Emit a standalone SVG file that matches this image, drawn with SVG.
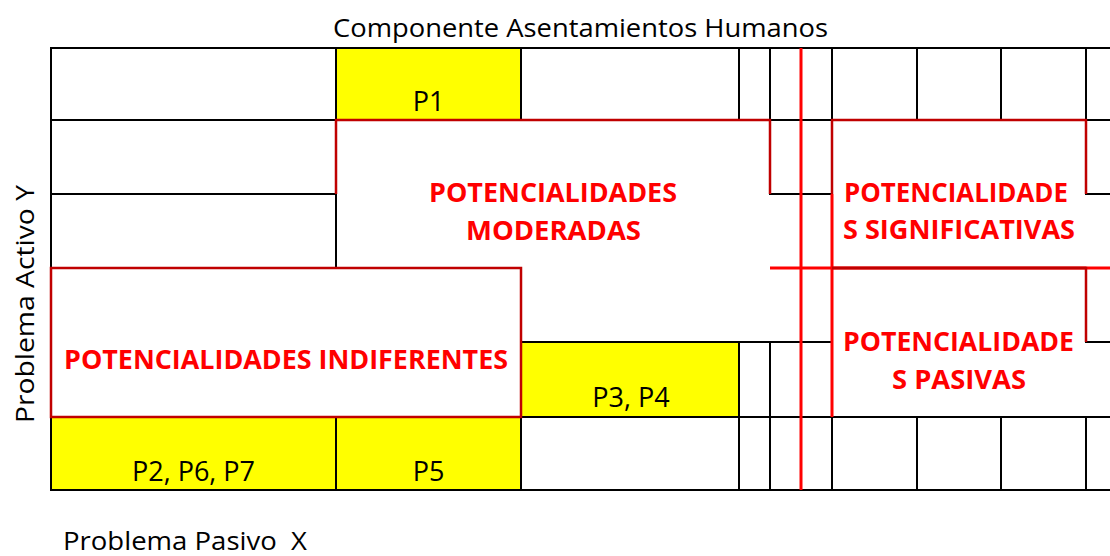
<svg xmlns="http://www.w3.org/2000/svg" width="1110" height="556" viewBox="0 0 1110 556">
  <style>
    .bk { stroke: #000000; stroke-width: 2; fill: none; stroke-linecap: square; }
    .dr { stroke: #C00000; stroke-width: 2.5; fill: none; }
    .br { stroke: #FF0000; stroke-width: 3; fill: none; }
    .yl { fill: #FFFF00; stroke: none; }
    .t { font-family: "Open Sans", "Noto Sans", "Liberation Sans", sans-serif; font-size: 26px; fill: #000000; }
    .c { font-family: "Open Sans", "Noto Sans", "Liberation Sans", sans-serif; font-size: 27px; fill: #000000; text-anchor: middle; }
    .r { font-family: "Open Sans", "Noto Sans", "Liberation Sans", sans-serif; font-size: 27px; font-weight: bold; fill: #FF0000; text-anchor: middle; }
  </style>
  <rect x="0" y="0" width="1110" height="556" fill="#FFFFFF"/>

  <g id="title">
    <text class="t" x="580.5" y="37" text-anchor="middle" textLength="495" lengthAdjust="spacingAndGlyphs">Componente Asentamientos Humanos</text>
  </g>
  <g id="axis-y">
    <text class="t" transform="translate(34,304) rotate(-90)" text-anchor="middle" textLength="238" lengthAdjust="spacingAndGlyphs">Problema Activo Y</text>
  </g>
  <g id="axis-x">
    <text class="t" x="63" y="550" xml:space="preserve" textLength="244" lengthAdjust="spacingAndGlyphs">Problema Pasivo  X</text>
  </g>

  <g id="cell-p1">
    <rect class="yl" x="336" y="48" width="185" height="72"/>
    <text class="c" x="428.5" y="111">P1</text>
  </g>
  <g id="cell-p3p4">
    <rect class="yl" x="521" y="342" width="218" height="75"/>
    <text class="c" x="631" y="407">P3, P4</text>
  </g>
  <g id="cell-p2p6p7">
    <rect class="yl" x="51" y="417" width="285" height="73"/>
    <text class="c" x="193.5" y="481">P2, P6, P7</text>
  </g>
  <g id="cell-p5">
    <rect class="yl" x="336" y="417" width="185" height="73"/>
    <text class="c" x="428.5" y="481">P5</text>
  </g>

  <g id="connectors">
    <path class="bk" d="M51 48H1110 M51 120H336 M770 120H832 M1086 120H1110 M51 194H336 M770 194H832 M1086 194H1110 M521 342H832 M1086 342H1110 M521 417H1110 M51 490H1110"/>
    <path class="bk" d="M51 48V268 M51 417V490 M336 48V120 M336 194V268 M336 417V490 M521 48V120 M521 417V490 M739 48V120 M739 342V490 M770 48V120 M770 342V490 M832 48V120 M832 417V490 M917 48V120 M917 417V490 M1001 48V120 M1001 417V490 M1086 48V120 M1086 417V490"/>
    <path class="br" d="M801 48V490 M770 268H1110 M832 194V417"/>
  </g>

  <g id="potencialidades-moderadas">
    <path class="dr" d="M336 194V120H770V194"/>
    <text class="r" x="553" y="202" textLength="248" lengthAdjust="spacingAndGlyphs">POTENCIALIDADES</text>
    <text class="r" x="553.5" y="240" textLength="175" lengthAdjust="spacingAndGlyphs">MODERADAS</text>
  </g>
  <g id="potencialidades-significativas">
    <path class="dr" d="M832 194V120H1086V194 M832 268H1086"/>
    <text class="r" x="956" y="202" textLength="224" lengthAdjust="spacingAndGlyphs">POTENCIALIDADE</text>
    <text class="r" x="959" y="239" textLength="232" lengthAdjust="spacingAndGlyphs">S SIGNIFICATIVAS</text>
  </g>
  <g id="potencialidades-pasivas">
    <path class="dr" d="M832 268H1086V342"/>
    <text class="r" x="958.5" y="351" textLength="231" lengthAdjust="spacingAndGlyphs">POTENCIALIDADE</text>
    <text class="r" x="959" y="389" textLength="134" lengthAdjust="spacingAndGlyphs">S PASIVAS</text>
  </g>
  <g id="potencialidades-indiferentes">
    <rect class="dr" x="51" y="268" width="470" height="149"/>
    <text class="r" x="286" y="369" textLength="444" lengthAdjust="spacingAndGlyphs">POTENCIALIDADES INDIFERENTES</text>
  </g>
</svg>
